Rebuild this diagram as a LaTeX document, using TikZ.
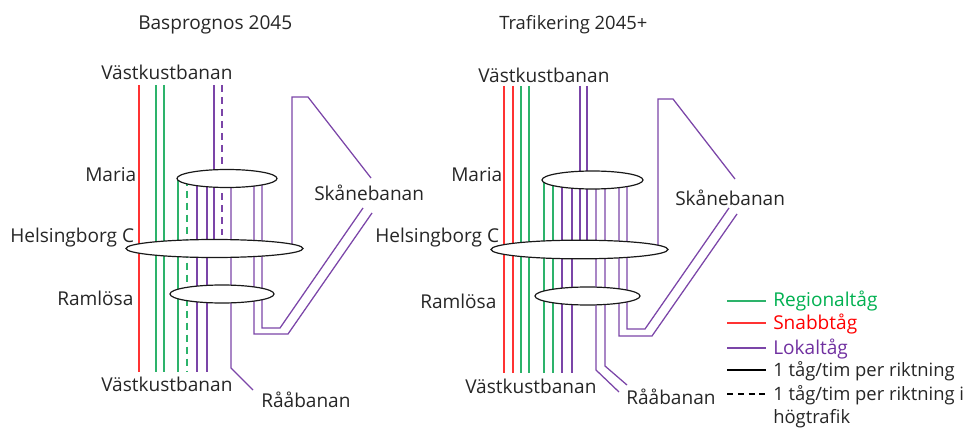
\documentclass[tikz,border=0pt]{standalone}
\usepackage{fontspec}
\setmainfont{Open Sans}
\usetikzlibrary{backgrounds,shapes.geometric}
\definecolor{reg}{HTML}{2DB36B}
\definecolor{snabb}{HTML}{FF3333}
\definecolor{lok}{HTML}{7B45A8}
\definecolor{regtext}{HTML}{00B050}
\definecolor{loktext}{HTML}{7030A0}
\tikzset{
  x=0.75pt,y=-0.75pt,
  lbl/.style={font=\fontsize{14.3}{16}\selectfont,text=black!85,inner sep=0pt,anchor=base west},
  small/.style={font=\fontsize{13.8}{16}\selectfont},
  station/.style={draw=black!90,fill=white,ellipse,line width=0.9pt,inner sep=0pt},
  regline/.style={draw=reg,line width=0.95pt},
  snabbline/.style={draw=snabb,line width=0.95pt},
  lokline/.style={draw=lok,line width=0.95pt,line join=miter},
  dashA/.style={dash pattern=on 5.25pt off 3.75pt},
  keyline/.style={line width=0.95pt},
}
\begin{document}
\begin{tikzpicture}
\useasboundingbox (0,0) rectangle (965,428);
% ---------- left panel ----------
\node[station,minimum height=13.5pt,minimum width=75pt] (mL) at (227,178.5) {};
\node[station,minimum height=13.5pt,minimum width=132.75pt] (hL) at (214.5,248.5) {};
\node[station,minimum height=13.5pt,minimum width=78pt] (rL) at (222,294) {};
\coordinate (tL) at (0,85);
\coordinate (bL) at (0,372);
\node[lbl] (t1) at (138,30) {Basprognos 2045};
\node[lbl] (v1) at (101,80) {Västkustbanan};
\node[lbl] (ma1) at (85,181) {Maria};
\node[lbl] (he1) at (10,242) {Helsingborg C};
\node[lbl] (ra1) at (57,305) {Ramlösa};
\node[lbl] (v2) at (101,391) {Västkustbanan};
\node[lbl] (aa1) at (261,407) {Rååbanan};
\node[lbl] (sk1) at (314,200) {Skånebanan};
% ---------- right panel ----------
\node[station,minimum height=13.5pt,minimum width=75.75pt] (mR) at (592.5,180) {};
\node[station,minimum height=14pt,minimum width=132.75pt] (hR) at (579.5,249.5) {};
\node[station,minimum height=13.5pt,minimum width=78.75pt] (rR) at (587.5,296) {};
\coordinate (tR) at (0,86);
\coordinate (bR) at (0,373);
\node[lbl,small] (t2) at (499,30) {Trafikering 2045+};
\node[lbl] (v3) at (478,83) {Västkustbanan};
\node[lbl] (ma2) at (451,181) {Maria};
\node[lbl] (he2) at (375,242) {Helsingborg C};
\node[lbl] (ra2) at (420,308) {Ramlösa};
\node[lbl] (v4) at (465,393) {Västkustbanan};
\node[lbl] (aa2) at (626,404) {Rååbanan};
\node[lbl] (sk2) at (675,205) {Skånebanan};
% ---------- legend ----------
\coordinate (k1a) at (727,301); \coordinate (k1b) at (766,301);
\coordinate (k2a) at (727,323); \coordinate (k2b) at (766,323);
\coordinate (k3a) at (727,348); \coordinate (k3b) at (766,348);
\coordinate (k4a) at (727,370); \coordinate (k4b) at (766,370);
\coordinate (k5a) at (727,394); \coordinate (k5b) at (766,394);
\draw[regline] (k1a) -- (k1b);
\draw[snabbline] (k2a) -- (k2b);
\draw[lokline] (k3a) -- (k3b);
\draw[keyline,black] (k4a) -- (k4b);
\draw[keyline,black,dash pattern=on 4.5pt off 3.6pt] (k5a) -- (k5b);
\node[lbl,text=regtext] (l1) at (773,306) {Regionaltåg};
\node[lbl,text=red] (l2) at (773,329) {Snabbtåg};
\node[lbl,text=loktext] (l3) at (773,354) {Lokaltåg};
\node[lbl,small] (l4) at (773,376) {1 tåg/tim per riktning};
\node[lbl,small] (l5) at (773,400) {1 tåg/tim per riktning i};
\node[lbl,small] (l6) at (773,423) {högtrafik};
% ---------- tracks ----------
\begin{scope}[on background layer]
% left
\draw[snabbline] (139,0 |- tL) -- (139,0 |- bL);
\foreach \x in {156,164} \draw[regline] (\x,0 |- tL) -- (\x,0 |- bL);
\draw[regline] (178,0 |- mL.center) -- (178,0 |- bL);
\draw[regline,dashA] (187,0 |- mL.center) -- (187,0 |- bL);
\foreach \x in {197,207} \draw[lokline] (\x,0 |- mL.center) -- (\x,0 |- bL);
\draw[lokline] (214,0 |- tL) -- (214,0 |- hL.center);
\draw[lokline,dashA] (222,0 |- tL) -- (222,235);
\coordinate (aaL) at (253,390);
\draw[lokline] (231,0 |- mL.center) -- (231,368) -- (aaL);
\coordinate (skLa) at (372,213);
\coordinate (skLb) at (363,208);
\coordinate (skLc) at (371,178);
\draw[lokline] (254,0 |- mL.center) -- (254,334) -- (288,334) -- (skLa);
\draw[lokline] (262,0 |- mL.center) -- (262,328) -- (280,328) -- (skLb);
\draw[lokline] (292,0 |- hL.center) -- (292,97) -- (308,97) -- (skLc);
% right
\foreach \x in {504,513} \draw[snabbline] (\x,0 |- tR) -- (\x,0 |- bR);
\foreach \x in {521,529} \draw[regline] (\x,0 |- tR) -- (\x,0 |- bR);
\foreach \x in {544,553} \draw[regline] (\x,0 |- mR.center) -- (\x,0 |- bR);
\foreach \x in {562,572} \draw[lokline] (\x,0 |- mR.center) -- (\x,0 |- bR);
\foreach \x in {580,587} \draw[lokline] (\x,0 |- tR) -- (\x,0 |- hR.center);
\coordinate (aaRa) at (619,392);
\coordinate (aaRb) at (627,385);
\draw[lokline] (596,0 |- mR.center) -- (596,370) -- (aaRa);
\draw[lokline] (605,0 |- mR.center) -- (605,366) -- (aaRb);
\coordinate (skRa) at (737,214);
\coordinate (skRb) at (729,208);
\coordinate (skRc) at (735,179);
\draw[lokline] (619,0 |- mR.center) -- (619,336) -- (652,336) -- (skRa);
\draw[lokline] (627,0 |- mR.center) -- (627,329) -- (645,329) -- (skRb);
\draw[lokline] (658,0 |- hR.center) -- (658,99) -- (673,99) -- (skRc);
\end{scope}
\end{tikzpicture}
\end{document}
